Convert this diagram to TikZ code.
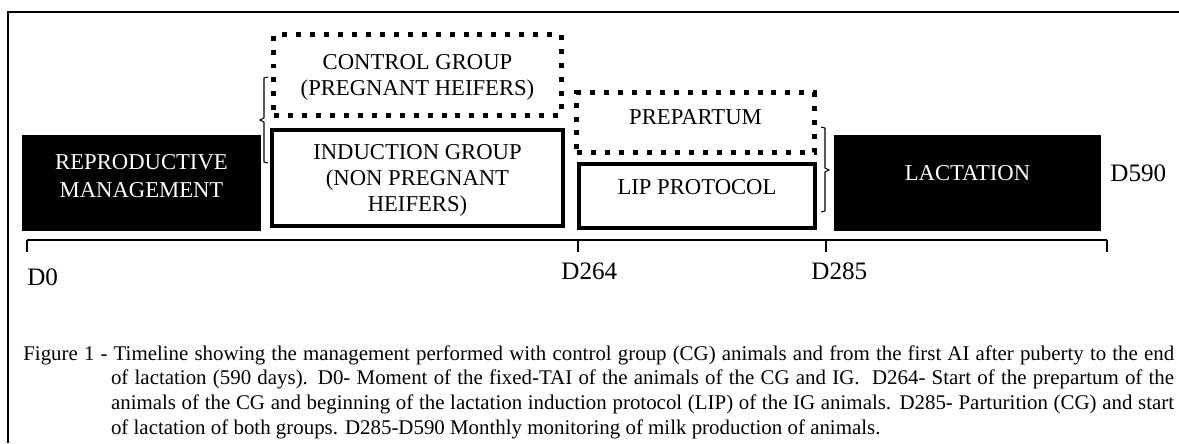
\documentclass[tikz,border=0pt]{standalone}
\usepackage{fontspec}
\setmainfont{Liberation Serif}

\begin{document}
\begin{tikzpicture}[x=0.02cm,y=-0.02cm,
    boxfont/.style={font=\fontsize{12.9}{15}\selectfont},
    phase/.style={boxfont,fill=black,text=white,align=center,inner sep=0pt},
    group/.style={boxfont,draw,line width=0.08cm,fill=white,align=center,inner sep=0pt},
    cgbox/.style={boxfont,draw,line width=0.1cm,dash pattern=on 0.1cm off 0.18cm,align=center,inner sep=0pt},
    daylabel/.style={font=\fontsize{14.3}{16}\selectfont,anchor=base west,inner sep=0pt}]
    \useasboundingbox (0,0) rectangle (1179,443);
    % frame
    \draw[line width=0.8pt] (8,443) -- (8,12) -- (1179,12);
    % phases
    \node[phase,minimum width=4.78cm,minimum height=1.92cm,text depth=0.28cm,
          font=\fontsize{12.9}{16}\selectfont] (repro) at (141.5,183) {REPRODUCTIVE\\MANAGEMENT};
    \node[cgbox,minimum width=5.76cm,minimum height=1.62cm,text depth=0pt] (ctrl) at (417.5,75)
        {CONTROL GROUP\\(PREGNANT HEIFERS)};
    \node[group,minimum width=5.82cm,minimum height=1.92cm,text depth=0pt] (induct) at (417.5,178)
        {INDUCTION GROUP\\(NON PREGNANT\\HEIFERS)};
    \node[cgbox,minimum width=4.76cm,minimum height=1.2cm,text depth=0.22cm] (prep) at (695.5,122.5) {PREPARTUM};
    \node[group,minimum width=4.72cm,minimum height=1.28cm,text depth=0.36cm] (lip) at (697,196) {LIP PROTOCOL};
    \node[phase,minimum width=5.34cm,minimum height=1.92cm,text depth=0.4cm] (lact) at (967.5,183) {LACTATION};
    % brackets
    \draw[line width=0.6pt] (268,77) -- (264,78) -- (264,118) -- (260,120) -- (264,122) -- (264,162) -- (268,163);
    \draw[line width=0.6pt] (821,127) -- (825,128) -- (825,168) -- (829,170) -- (825,172) -- (825,211) -- (821,212);
    % time axis
    \coordinate (axisL) at (27,240);
    \coordinate (t264) at (578,240);
    \coordinate (t285) at (826,240);
    \coordinate (axisR) at (1107,240);
    \draw[line width=0.8pt] (axisL) -- (axisR);
    \foreach \t in {axisL,t264,t285,axisR}
        \draw[line width=0.8pt] (\t) -- ++(0,12);
    \node[daylabel] (d0) at (27,285) {D0};
    \node[daylabel] (d264) at (561,279) {D264};
    \node[daylabel] (d285) at (811,279) {D285};
    \node[daylabel] (d590) at (1110,181) {D590};
    % caption
    \node[anchor=north west,inner sep=0pt,text width=23.02cm,align=justify,
          font=\fontsize{11.9}{14.05}\selectfont] (caption) at (23,345)
        {\hyphenpenalty=10000\exhyphenpenalty=10000\setbox0\hbox{Figure 1 - }\hangindent=\wd0\hangafter=1
         Figure 1 - Timeline showing the management performed with control group (CG) animals and from the first AI after puberty to the end of lactation (590 days). D0- Moment of the fixed-TAI of the animals of the CG and IG.\ \ D264- Start of the prepartum of the animals of the CG and beginning of the lactation induction protocol (LIP) of the IG animals. D285- Parturition (CG) and start of lactation of both groups. D285-D590 Monthly monitoring of milk production of animals.\par};
\end{tikzpicture}
\end{document}
